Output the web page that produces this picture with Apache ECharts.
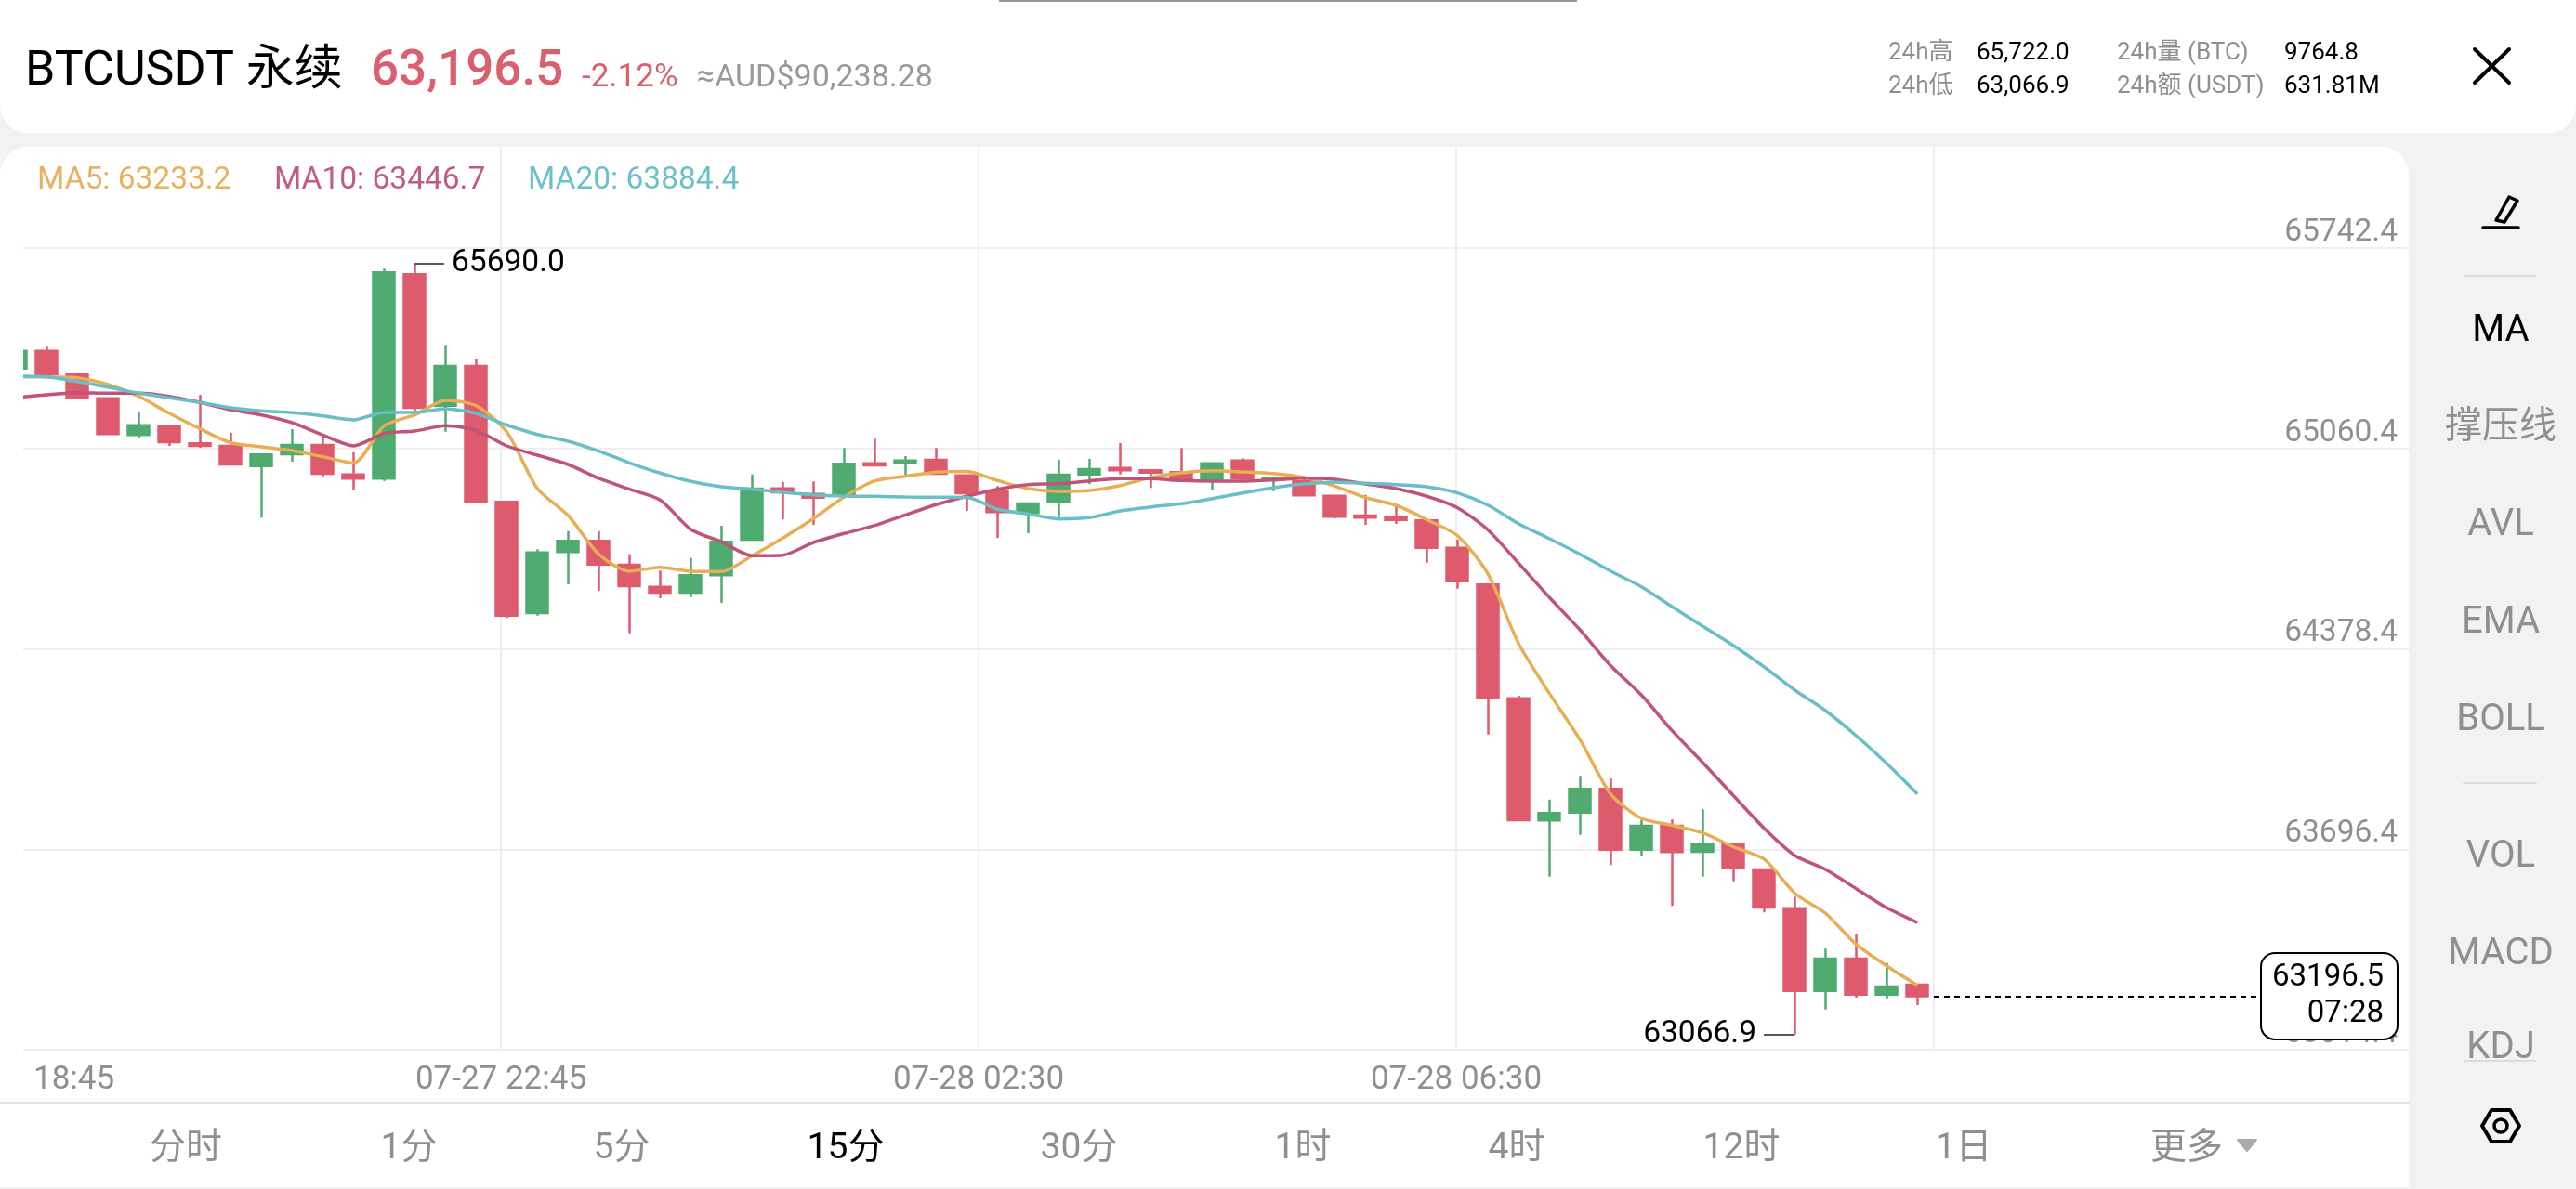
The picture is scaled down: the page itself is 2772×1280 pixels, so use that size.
<!DOCTYPE html>
<html lang="zh">
<head>
<meta charset="utf-8">
<title>BTCUSDT 永续 15分 K线</title>
<style>
  html, body { margin: 0; padding: 0; background: #f2f2f2; }
  #chart { width: 2772px; height: 1280px; }
</style>
<script src="https://cdn.jsdelivr.net/npm/echarts@6/dist/echarts.min.js"></script>
</head>
<body>
<div id="chart"></div>
<script>
// 15-minute candles as [open, close, low, high]
const candles = [
  [65332.4, 65392.5, 65332.4, 65392.5],
  [65392.5, 65313.5, 65313.5, 65406.4],
  [65311.6, 65232.6, 65232.6, 65311.6],
  [65231.3, 65109.3, 65109.3, 65231.3],
  [65106.1, 65139.6, 65095.3, 65185.1],
  [65137.7, 65081.8, 65069.1, 65137.7],
  [65077.6, 65069.1, 65062.8, 65243.0],
  [65069.1, 65005.9, 65002.7, 65114.3],
  [65000.5, 65039.7, 64824.8, 65039.7],
  [65040.7, 65072.3, 65015.4, 65126.0],
  [65072.3, 64974.3, 64965.8, 65108.0],
  [64972.1, 64957.5, 64920.6, 65047.9],
  [64957.5, 65659.3, 64950.0, 65671.9],
  [65653.0, 65198.7, 65179.8, 65690.0],
  [65206.0, 65341.0, 65117.5, 65412.7],
  [65341.0, 64879.5, 64877.2, 65366.3],
  [64878.5, 64491.6, 64483.4, 64878.5],
  [64500.1, 64706.6, 64491.6, 64717.3],
  [64707.8, 64745.7, 64598.1, 64779.3],
  [64745.7, 64665.4, 64576.0, 64779.3],
  [64664.5, 64591.8, 64431.5, 64700.2],
  [64589.6, 64569.7, 64550.7, 64644.6],
  [64569.7, 64628.8, 64554.8, 64687.6],
  [64628.8, 64742.6, 64534.9, 64797.3],
  [64749.9, 64923.7, 64749.9, 64972.1],
  [64924.7, 64911.1, 64818.5, 64946.8],
  [64905.7, 64893.1, 64800.4, 64948.1],
  [64903.8, 65008.1, 64900.6, 65061.8],
  [65010.0, 65002.7, 65002.7, 65093.5],
  [65011.3, 65019.5, 64968.9, 65034.3],
  [65021.7, 64974.3, 64972.7, 65061.8],
  [64968.9, 64907.9, 64847.8, 64968.9],
  [64913.3, 64843.7, 64755.2, 64932.2],
  [64840.6, 64873.1, 64772.0, 64873.1],
  [64879.5, 64971.1, 64821.6, 65021.7],
  [64972.1, 64990.1, 64939.5, 65024.9],
  [64994.2, 64986.0, 64972.1, 65078.6],
  [64986.0, 64978.4, 64925.9, 64986.0],
  [64979.7, 64951.2, 64951.2, 65061.8],
  [64956.3, 65010.0, 64917.4, 65010.0],
  [65019.5, 64958.5, 64944.9, 65027.1],
  [64954.4, 64959.4, 64915.2, 64959.4],
  [64948.1, 64900.6, 64900.6, 64958.5],
  [64899.4, 64827.9, 64822.6, 64899.4],
  [64832.0, 64824.8, 64800.4, 64902.5],
  [64827.9, 64817.2, 64803.6, 64863.7],
  [64815.3, 64722.4, 64671.8, 64815.3],
  [64722.4, 64608.6, 64583.3, 64750.8],
  [64597.2, 64213.4, 64087.0, 64597.2],
  [64210.3, 63795.2, 63793.0, 64218.8],
  [63794.3, 63819.6, 63603.4, 63865.7],
  [63821.5, 63901.8, 63745.6, 63946.0],
  [63901.8, 63695.0, 63642.5, 63937.5],
  [63695.0, 63776.3, 63675.1, 63797.5],
  [63776.3, 63686.8, 63503.5, 63797.5],
  [63687.8, 63712.1, 63603.4, 63832.2],
  [63713.1, 63631.8, 63587.6, 63718.4],
  [63627.7, 63498.1, 63481.3, 63627.7],
  [63495.9, 63214.6, 63066.9, 63535.1],
  [63214.6, 63324.2, 63151.3, 63358.1],
  [63324.2, 63201.9, 63191.5, 63406.4],
  [63201.9, 63229.4, 63189.3, 63309.4],
  [63235.7, 63196.5, 63166.2, 63235.7]
];

const ma5 = [
  65304.0, 65304.0, 65300.8, 65277.7, 65237.6, 65179.8, 65127.0, 65079.5, 65066.0, 65053.3,
  65032.1, 65011.3, 65137.7, 65174.4, 65224.0, 65206.0, 65116.5, 64923.7, 64832.0, 64700.2,
  64642.4, 64656.0, 64642.4, 64641.4, 64695.2, 64755.2, 64821.6, 64895.3, 64950.0, 64965.8,
  64979.7, 64982.2, 64951.2, 64923.7, 64914.2, 64917.4, 64934.2, 64961.6, 64977.5, 64984.7,
  64980.6, 64975.2, 64961.6, 64932.2, 64893.1, 64866.8, 64817.8, 64763.4, 64631.9, 64394.9,
  64226.1, 64068.0, 63883.7, 63801.6, 63777.8, 63751.9, 63704.5, 63662.5, 63546.4, 63478.2,
  63372.6, 63299.0, 63233.2
];

const ma10 = [
  65233.5, 65243.0, 65250.2, 65248.3, 65248.3, 65237.6, 65216.7, 65192.4, 65174.4, 65148.1,
  65106.1, 65069.1, 65111.2, 65119.7, 65137.7, 65121.9, 65069.1, 65037.5, 65005.9, 64958.5,
  64921.5, 64884.8, 64784.6, 64742.6, 64695.2, 64697.1, 64740.4, 64771.0, 64798.2, 64834.2,
  64869.0, 64897.5, 64921.5, 64937.3, 64940.5, 64950.0, 64957.5, 64957.5, 64951.2, 64949.0,
  64949.0, 64953.1, 64959.4, 64955.3, 64939.5, 64923.7, 64897.5, 64858.3, 64782.4, 64668.6,
  64552.9, 64442.3, 64320.9, 64221.0, 64099.6, 63991.2, 63878.4, 63767.7, 63675.1, 63627.7,
  63562.3, 63497.1, 63446.7
];

const ma20 = [
  65306.2, 65304.0, 65288.2, 65269.2, 65248.3, 65232.6, 65216.7, 65198.7, 65188.3, 65182.0,
  65171.2, 65157.6, 65182.9, 65182.9, 65195.6, 65179.8, 65140.2, 65108.0, 65084.9, 65051.1,
  65011.3, 64976.5, 64948.1, 64930.0, 64921.5, 64911.1, 64902.5, 64898.4, 64897.5, 64895.3,
  64894.3, 64893.7, 64853.2, 64837.4, 64820.4, 64824.8, 64847.8, 64861.4, 64872.2, 64889.9,
  64908.9, 64926.9, 64939.5, 64944.9, 64941.7, 64937.3, 64930.0, 64908.9, 64866.8, 64803.6,
  64753.0, 64700.2, 64642.4, 64589.6, 64521.3, 64454.9, 64389.5, 64316.8, 64237.8, 64168.2,
  64082.9, 63988.1, 63884.4
];

const timeLabels = ['18:45', '07-27 22:45', '07-28 02:30', '07-28 06:30'];
const priceMin = 63014.4;
const priceStep = 682;
const priceTop = 65742.4;

const highPrice = 65690.0;
const lowPrice = 63066.9;
const lastPrice = 63196.5;
const countdown = '07:28';

const periodTabs = ['分时', '1分', '5分', '15分', '30分', '1时', '4时', '12时', '1日', '更多'];
const activePeriod = '15分';
const indicatorTabs = ['MA', '撑压线', 'AVL', 'EMA', 'BOLL', 'VOL', 'MACD', 'KDJ'];
const activeIndicator = 'MA';

const FONT = 'Roboto, "Noto Sans CJK SC", sans-serif';
const GREY = '#8f8f8f';
const RED = '#de5a6d';
const GREEN = '#4fab70';

// Candle centres sit 33px apart; the first one is partly cut off by the plot's left edge.
const PLOT = { left: 25, right: 2592, top: 158, bottom: 1130 };
const BAR_STEP = 33;
const FIRST_CENTRE = 17.4;
const indexAt = px => (px - FIRST_CENTRE) / BAR_STEP;

function text(str, x, y, opts) {
  return {
    type: 'text', x, y: y + 3.5, z: 20, silent: true,
    style: Object.assign({
      text: str, fontFamily: FONT, fontSize: 26, fill: GREY,
      textAlign: 'left', textVerticalAlign: 'middle', verticalAlign: 'middle'
    }, opts)
  };
}
const line = (x1, y1, x2, y2, stroke, lineWidth) => ({
  type: 'line', z: 20, silent: true,
  shape: { x1, y1, x2, y2 },
  style: { stroke, lineWidth, lineCap: 'round' }
});
const poly = (points, style) => ({
  type: 'polygon', z: 20, silent: true, shape: { points }, style
});

const tabCentres = [200, 440, 669, 910, 1161, 1402, 1632, 1874, 2113, 2353];
const indicatorRows = [353, 457, 562, 667, 772, 919, 1024, 1125];

const panels = [
  { type: 'rect', z: -10, silent: true, shape: { x: 0, y: 0, width: 2772, height: 143, r: [0, 0, 30, 30] }, style: { fill: '#fff' } },
  { type: 'rect', z: -10, silent: true, shape: { x: 0, y: 158, width: 2592, height: 1120, r: [30, 30, 0, 0] }, style: { fill: '#fff' } },
  { type: 'rect', z: 20, silent: true, shape: { x: 1075, y: 0, width: 622, height: 2 }, style: { fill: '#9a9a9a' } }
];

const header = [
  text('BTCUSDT 永续', 27, 74, { fontSize: 52, fill: '#000' }),
  text('63,196.5', 399, 74, { fontSize: 53, fontWeight: 500, fill: '#d9606f' }),
  text('-2.12%', 626, 81, { fontSize: 35, fill: '#d9606f' }),
  text('≈AUD$90,238.28', 750, 81, { fontSize: 34, fill: '#999' }),
  text('24h高', 2032, 54), text('65,722.0', 2127, 54, { fill: '#000' }),
  text('24h量 (BTC)', 2278, 54), text('9764.8', 2458, 54, { fill: '#000' }),
  text('24h低', 2032, 90), text('63,066.9', 2127, 90, { fill: '#000' }),
  text('24h额 (USDT)', 2278, 90), text('631.81M', 2458, 90, { fill: '#000' }),
  line(2663, 53, 2700, 89, '#000', 4),
  line(2700, 53, 2663, 89, '#000', 4)
];

const maReadout = [
  text('MA5: ' + ma5[ma5.length - 1].toFixed(1), 40, 191, { fontSize: 33.5, fill: '#e8b060' }),
  text('MA10: ' + ma10[ma10.length - 1].toFixed(1), 295, 191, { fontSize: 33.5, fill: '#c25c7e' }),
  text('MA20: ' + ma20[ma20.length - 1].toFixed(1), 568, 191, { fontSize: 33.5, fill: '#6dbfcb' })
];

const navBar = [
  line(0, 1187.5, 2592, 1187.5, '#e2e2e2', 3),
  ...periodTabs.map((t, i) => text(t, tabCentres[i], 1234, {
    fontSize: 39, textAlign: 'center', fill: t === activePeriod ? '#000' : GREY
  })),
  poly([[2408, 1227], [2428, 1227], [2418, 1239]], { fill: '#aaa', stroke: '#aaa', lineWidth: 2, lineJoin: 'round' })
];

const sideBar = [
  poly([[2700, 212], [2709, 216], [2695, 239], [2686, 237]], { fill: 'none', stroke: '#000', lineWidth: 3.5, lineJoin: 'round' }),
  line(2672, 245, 2710, 245, '#000', 3.5),
  line(2651, 297, 2729, 297, '#dcdcdc', 2),
  line(2651, 843, 2729, 843, '#dcdcdc', 2),
  line(2651, 1142, 2728, 1142, '#dcdcdc', 2),
  ...indicatorTabs.map((t, i) => text(t, 2691, indicatorRows[i], {
    fontSize: 40, textAlign: 'center', fill: t === activeIndicator ? '#000' : GREY
  })),
  poly([[2671, 1212], [2681, 1195], [2701, 1195], [2711, 1212], [2701, 1229], [2681, 1229]],
    { fill: 'none', stroke: '#000', lineWidth: 4, lineJoin: 'round' }),
  { type: 'circle', z: 20, silent: true, shape: { cx: 2691, cy: 1212, r: 7 }, style: { fill: 'none', stroke: '#000', lineWidth: 3.5 } }
];

// Keeps the sliced first candle inside the plot area.
const leftMask = { type: 'rect', z: 15, silent: true, shape: { x: 0, y: 200, width: PLOT.left, height: 930 }, style: { fill: '#fff' } };

const maSeries = (name, values, color) => ({
  name, type: 'line', xAxisIndex: 0, yAxisIndex: 0, z: 5,
  data: values.map((v, i) => [i, v]),
  showSymbol: false, smooth: 0.25, clip: true, silent: true,
  lineStyle: { color, width: 3.5 }
});

const extremeLine = (value, index, endPx) => [
  { coord: [index, value], value: value.toFixed(1) },
  { coord: [index, value], x: endPx }
];

const chart = echarts.init(document.getElementById('chart'), null, { renderer: 'canvas' });
chart.setOption({
  animation: false,
  backgroundColor: 'transparent',
  textStyle: { fontFamily: FONT },
  grid: {
    left: PLOT.left, right: 2772 - PLOT.right,
    top: PLOT.top, bottom: 1280 - PLOT.bottom,
    containLabel: false
  },
  xAxis: [
    {
      type: 'value',
      min: indexAt(PLOT.left), max: indexAt(PLOT.right),
      axisLine: { show: false }, axisTick: { show: false },
      axisLabel: { show: false }, splitLine: { show: false }
    },
    {
      // Four equal time columns with their labels
      type: 'value', position: 'bottom',
      min: 0, max: (PLOT.right - PLOT.left) / 514, interval: 1,
      axisLine: { show: false }, axisTick: { show: false },
      splitLine: { show: true, showMinLine: false, showMaxLine: false, lineStyle: { color: '#eeeeee', width: 2 } },
      axisLabel: {
        color: GREY, fontSize: 35, fontFamily: FONT, margin: 16,
        alignMinLabel: 'left',
        formatter: v => {
          if (v === 0) return '{first|' + timeLabels[0] + '}';
          return timeLabels[v] || '';
        },
        rich: { first: { padding: [0, 0, 0, 11], fontSize: 35, color: GREY, fontFamily: FONT } }
      }
    }
  ],
  yAxis: {
    type: 'value', position: 'right',
    min: priceMin, max: priceMin + (PLOT.bottom - PLOT.top) * priceStep / 215.75,
    interval: priceStep,
    axisLine: { show: false }, axisTick: { show: false },
    splitLine: { show: true, showMaxLine: false, lineStyle: { color: '#eeeeee', width: 2 } },
    axisLabel: {
      inside: true, margin: 12, color: GREY, fontSize: 33.5, fontFamily: FONT,
      verticalAlign: 'bottom', lineHeight: 33,
      showMaxLabel: false,
      formatter: v => (v > priceTop + 1 ? '' : v.toFixed(1))
    }
  },
  series: [
    {
      name: 'BTCUSDT', type: 'candlestick', xAxisIndex: 0, yAxisIndex: 0, z: 3,
      clip: true, silent: true,
      barWidth: 23.5,
      data: candles.map((c, i) => [i, ...c]),
      itemStyle: {
        color: GREEN, color0: RED,
        borderColor: GREEN, borderColor0: RED,
        borderWidth: 2.5
      },
      markLine: {
        silent: true, symbol: 'none', z: 8, animation: false,
        lineStyle: { color: '#222', type: 'solid', width: 1.5 },
        label: {
          show: true, position: 'end', distance: 8, color: '#000',
          fontSize: 33.5, fontFamily: FONT, padding: [10, 0, 0, 0],
          formatter: p => p.data.value != null ? p.data.value : ''
        },
        data: [
          extremeLine(highPrice, 13, 478),
          extremeLine(lowPrice, 58, 1898),
          [
            { coord: [62, lastPrice], x: PLOT.left + 4 * 514,
              lineStyle: { color: '#000', type: [6, 5], width: 2 }, label: { show: false } },
            { coord: [62, lastPrice], x: 2434 }
          ]
        ]
      },
      markPoint: {
        silent: true, symbol: 'circle', symbolSize: 0, z: 12, animation: false,
        data: [{ coord: [62, lastPrice], x: 2507 }],
        label: {
          show: true, position: 'inside',
          formatter: lastPrice.toFixed(1) + '\n' + countdown,
          color: '#000', fontSize: 33, fontFamily: FONT, lineHeight: 39,
          align: 'right', verticalAlign: 'middle',
          width: 118, padding: [8, 14, 5, 13], offset: [72, 0],
          backgroundColor: '#fff', borderColor: '#000', borderWidth: 2, borderRadius: 14
        }
      }
    },
    maSeries('MA5', ma5, '#e9ae55'),
    maSeries('MA10', ma10, '#bf5478'),
    maSeries('MA20', ma20, '#69bec8')
  ],
  graphic: { elements: [...panels, ...header, ...maReadout, ...navBar, ...sideBar, leftMask] }
});
</script>
</body>
</html>
